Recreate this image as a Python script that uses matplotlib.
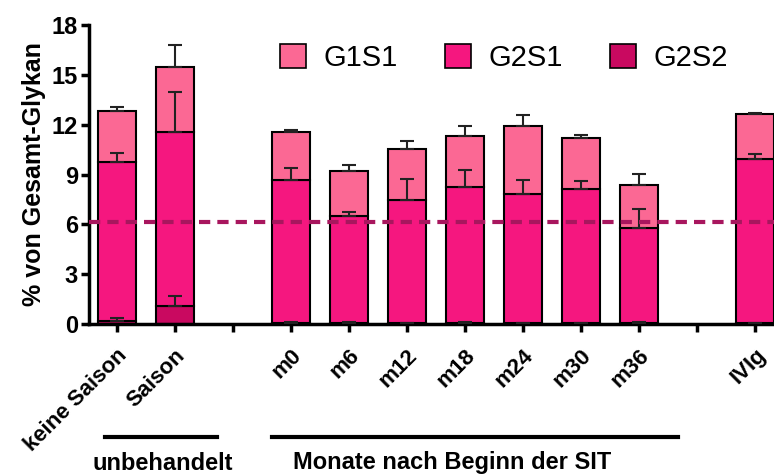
import numpy as np
import matplotlib
matplotlib.use('Agg')
from matplotlib import pyplot as plt
from matplotlib.lines import Line2D
from matplotlib.patches import Patch

plt.rcParams['font.family'] = ['Liberation Sans', 'DejaVu Sans']

# Kategorien und Positionen (Lücken zwischen den Gruppen)
labels = ['keine Saison', 'Saison', 'm0', 'm6', 'm12', 'm18', 'm24', 'm30', 'm36', 'IVIg']
pos = [0, 1, 3, 4, 5, 6, 7, 8, 9, 11]
tick_pos = list(range(12))
tick_labels = ['keine Saison', 'Saison', '', 'm0', 'm6', 'm12', 'm18', 'm24', 'm30', 'm36', '', 'IVIg']

# Mittelwerte (Anteil je Glykan, gestapelt) und SD
g2s2 = [0.20, 1.08, 0.08, 0.06, 0.05, 0.08, 0.05, 0.05, 0.07, 0.05]
g2s1 = [9.54, 10.47, 8.58, 6.46, 7.40, 8.15, 7.76, 8.10, 5.73, 9.87]
g1s1 = [3.11, 3.95, 2.91, 2.72, 3.11, 3.10, 4.14, 3.07, 2.57, 2.71]
g2s2_sd = [0.16, 0.59, 0.05, 0.03, 0.03, 0.04, 0.03, 0.03, 0.04, 0.03]
g2s1_sd = [0.58, 2.40, 0.74, 0.21, 1.27, 1.07, 0.86, 0.48, 1.13, 0.34]
g1s1_sd = [0.20, 1.33, 0.13, 0.36, 0.44, 0.60, 0.65, 0.14, 0.67, 0.10]
ref_line = 6.15

c_g1s1 = '#fb6894'
c_g2s1 = '#f5177f'
c_g2s2 = '#c90960'

fig = plt.figure(figsize=(7.74, 4.75), dpi=100)
ax = fig.add_axes([0.115, 0.318, 0.898, 0.629])

w = 0.66
b1 = np.array(g2s2)
b2 = b1 + np.array(g2s1)
b3 = b2 + np.array(g1s1)

ax.bar(pos, g2s2, w, color=c_g2s2, edgecolor='black', linewidth=1.5, zorder=2)
ax.bar(pos, g2s1, w, bottom=b1, color=c_g2s1, edgecolor='black', linewidth=1.5, zorder=2)
ax.bar(pos, g1s1, w, bottom=b2, color=c_g1s1, edgecolor='black', linewidth=1.5, zorder=2)

# nur obere Fehlerbalken
zero = np.zeros(len(pos))
for top, sd in [(b1, g2s2_sd), (b2, g2s1_sd), (b3, g1s1_sd)]:
    ax.errorbar(pos, top, yerr=[zero, sd], fmt='none', ecolor='#222222',
                elinewidth=1.5, capsize=5, capthick=1.5, zorder=3)

ax.axhline(ref_line, color='#a8165e', linewidth=3, dashes=(2.7, 1.7), zorder=4)

ax.set_xlim(-0.48, 11.5)
ax.set_ylim(0, 18)
ax.set_yticks(range(0, 19, 3))
ax.set_xticks(tick_pos)
ax.set_xticklabels(tick_labels, rotation=45, ha='right', rotation_mode='anchor',
                   fontsize=16, fontweight='bold')
ax.tick_params(axis='y', labelsize=17, width=2.5, length=6, pad=2)
ax.tick_params(axis='x', width=2.5, length=6, pad=9)
for lab in ax.get_yticklabels():
    lab.set_fontweight('bold')
ax.spines['top'].set_visible(False)
ax.spines['right'].set_visible(False)
ax.spines['left'].set_linewidth(2.5)
ax.spines['bottom'].set_linewidth(2.5)
ax.set_ylabel('% von Gesamt-Glykan', fontsize=18, fontweight='bold', labelpad=4)

handles = [Patch(facecolor=c, edgecolor='black', linewidth=1.2) for c in (c_g1s1, c_g2s1, c_g2s2)]
fig.legend(handles, ['G1S1', 'G2S1', 'G2S2'], ncol=3, frameon=False, fontsize=21,
           loc='center left', bbox_to_anchor=(0.328, 0.878), handlelength=0.9,
           handleheight=0.9, handletextpad=0.6, columnspacing=1.6)

# Gruppenbeschriftung unter der Achse
H = 475.0
W = 774.0
fig.add_artist(Line2D([105 / W, 217 / W], [1 - 437 / H, 1 - 437 / H], color='black', linewidth=3))
fig.add_artist(Line2D([272 / W, 678 / W], [1 - 437 / H, 1 - 437 / H], color='black', linewidth=3))
fig.text(163 / W, 1 - 463 / H, 'unbehandelt', ha='center', va='center', fontsize=17,
         fontweight='bold')
fig.text(452 / W, 1 - 463 / H, 'Monate nach Beginn der SIT', ha='center', va='center',
         fontsize=17, fontweight='bold')

plt.savefig('out.png', dpi=100)
